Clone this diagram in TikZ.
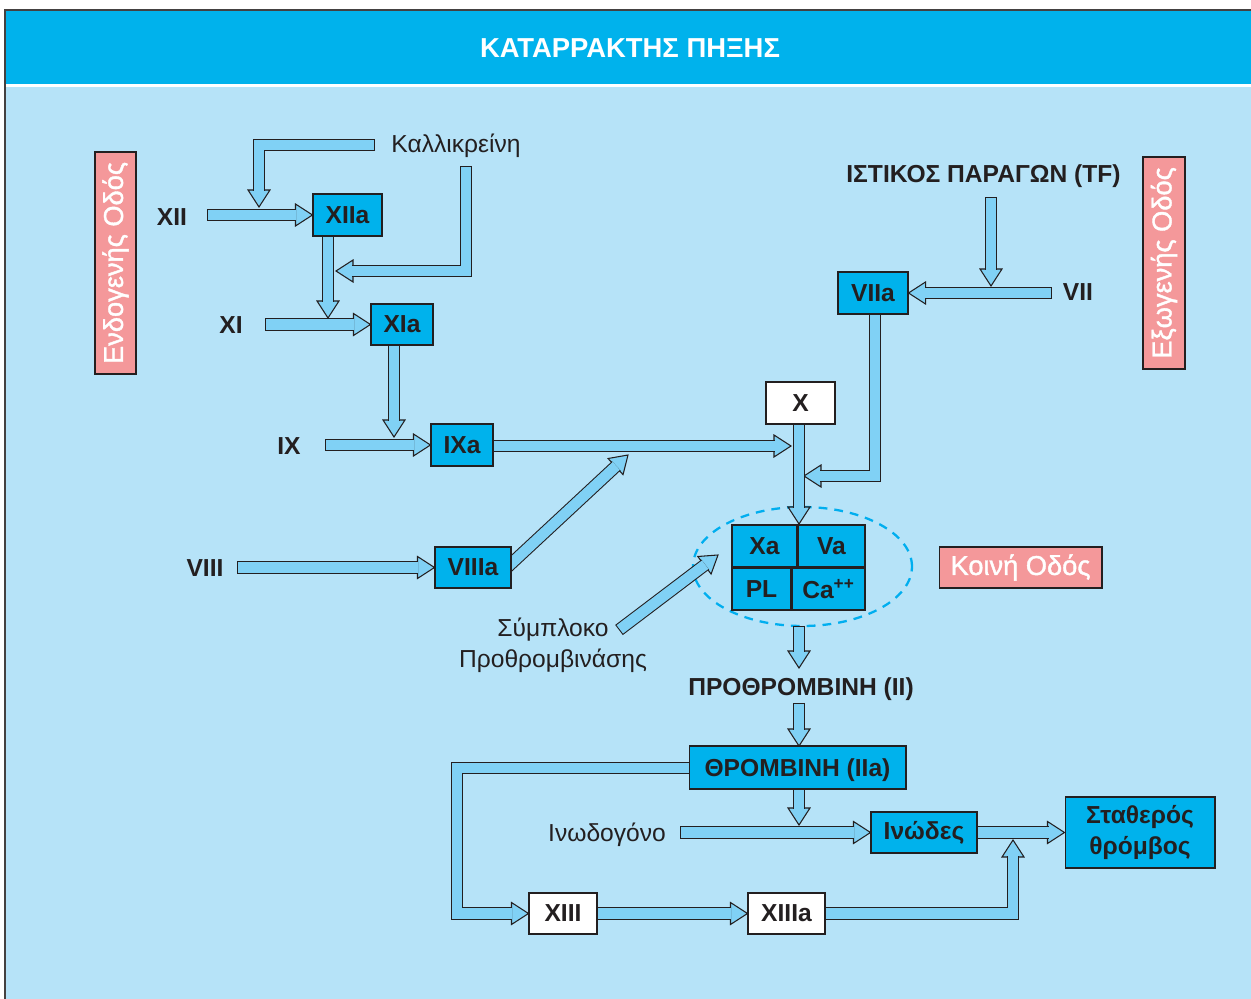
\documentclass[tikz,border=0pt]{standalone}
\usepackage{fontspec}
\setmainfont{Liberation Sans}
\newfontfamily\labelfont[FakeBold=1.4]{Liberation Sans}
\usetikzlibrary{calc,shapes.geometric}

\definecolor{ink}{HTML}{231F20}
\definecolor{cyanbox}{HTML}{00B2EC}
\definecolor{bgblue}{HTML}{B6E3F8}
\definecolor{arrowfill}{HTML}{80D1F5}
\definecolor{pinkfill}{HTML}{F4989A}
\definecolor{dashcyan}{HTML}{00AEEF}

\pgfdeclarelayer{bg}
\pgfdeclarelayer{arrows}
\pgfsetlayers{bg,arrows,main}

\tikzset{
  pageframe/.style={draw=ink!85, line width=0.8pt},
  box/.style={draw=ink, line width=0.6pt, fill=cyanbox, inner sep=0pt, text=ink,
    font=\fontsize{14}{16}\selectfont\bfseries},
  whitebox/.style={box, fill=white},
  pinkbox/.style={draw=ink, line width=0.6pt, fill=pinkfill, inner sep=0pt, text=white,
    font=\labelfont\fontsize{15.5}{18}\selectfont},
  factor/.style={inner sep=0pt, text=ink, font=\fontsize{14}{16}\selectfont\bfseries},
  note/.style={inner sep=0pt, text=ink, font=\fontsize{14}{17.6}\selectfont, align=center},
  titletext/.style={inner sep=0pt, text=white, font=\fontsize{15.6}{18}\selectfont\bfseries},
  shaft/.style={draw=ink, line width=7.2pt, line join=miter,
    postaction={draw=arrowfill, line width=6pt, shorten <=0.6pt}},
  fathead/.style={draw=ink, line width=0.6pt, fill=arrowfill, line join=miter},
  complexring/.style={ellipse, draw=dashcyan, line width=1.3pt, dash pattern=on 5pt off 4pt,
    minimum width=4.38cm, minimum height=2.38cm, inner sep=0pt},
}

% open block-arrow head with its tip at #1, pointing in direction #2
\newcommand\blockhead[2]{%
  \begin{scope}[shift={(#1)},rotate=#2]
    \draw[fathead] (0,0) -- (-0.34cm,0.22cm) -- (-0.34cm,-0.22cm) -- cycle;
  \end{scope}}
% block arrow: #1 tail and bends, #2 tip, #3 direction of the head
\newcommand\blockarrow[3]{%
  \blockhead{#2}{#3}
  \draw[shaft] #1 -- ($(#2)+(#3:-0.32cm)$);}

\begin{document}
\begin{tikzpicture}[x=0.02cm, y=-0.02cm]
\useasboundingbox (0,0) rectangle (1251,999);

% page, title bar and frame
\begin{pgfonlayer}{bg}
  \fill[white] (0,0) rectangle (1251,999);
  \fill[cyanbox] (5,10) rectangle (1251,84);
  \fill[bgblue] (5,87) rectangle (1251,999);
  \draw[pageframe] (5,999) -- (5,10) -- (1251,10);
  \node[complexring] (ring) at (802.5,566.5) {};
\end{pgfonlayer}

\node[titletext] (title) at (630,48) {ΚΑΤΑΡΡΑΚΤΗΣ ΠΗΞΗΣ};

% pathway labels
\node[pinkbox, rotate=90, minimum width=4.44cm, minimum height=0.82cm] (endo) at (115.5,263) {Ενδογενής Οδός};
\node[pinkbox, rotate=90, minimum width=4.24cm, minimum height=0.84cm] (exo) at (1164,263) {Εξωγενής Οδός};
\node[pinkbox, minimum width=3.26cm, minimum height=0.82cm] (common) at (1020.5,567.5) {Κοινή Οδός};

% free texts
\node[note] (kall) at (456,146) {Καλλικρείνη};
\node[factor] (tf) at (983.5,176) {ΙΣΤΙΚΟΣ ΠΑΡΑΓΩΝ (TF)};
\node[factor] (xii) at (172,217) {XII};
\node[factor] (xi) at (231,325) {XI};
\node[factor] (ix) at (289,446) {IX};
\node[factor] (viii) at (205,568) {VIII};
\node[factor] (vii) at (1078,292) {VII};
\node[note] (prothrombinase) at (553,645) {Σύμπλοκο\\Προθρομβινάσης};
\node[factor] (prothrombin) at (801,689) {ΠΡΟΘΡΟΜΒΙΝΗ (II)};
\node[note] (fibrinogen) at (607,835) {Ινωδογόνο};

% activated factors
\node[box, minimum width=1.38cm, minimum height=0.84cm] (xiia) at (347.5,215) {XIIa};
\node[box, minimum width=1.24cm, minimum height=0.82cm] (xia) at (402,324.5) {XIa};
\node[box, minimum width=1.24cm, minimum height=0.84cm] (ixa) at (462,445) {IXa};
\node[box, minimum width=1.52cm, minimum height=0.82cm] (viiia) at (473,567.5) {VIIIa};
\node[box, minimum width=1.40cm, minimum height=0.84cm] (viia) at (873,293) {VIIa};
\node[whitebox, minimum width=1.38cm, minimum height=0.84cm] (x) at (800.5,403) {X};

% prothrombinase complex
\node[box, minimum width=1.30cm, minimum height=0.84cm] (xa) at (764.5,546) {Xa};
\node[box, minimum width=1.34cm, minimum height=0.84cm] (va) at (831.5,546) {Va};
\node[box, minimum width=1.18cm, minimum height=0.84cm] (pl) at (761.5,589) {PL};
\node[box, minimum width=1.46cm, minimum height=0.84cm] (ca) at (828.5,589) {Ca\textsuperscript{++}};

% thrombin and fibrin
\node[box, minimum width=4.34cm, minimum height=0.86cm, text depth=0pt] (thr) at (797.5,767.5) {ΘΡΟΜΒΙΝΗ (IIa)};
\node[box, minimum width=2.12cm, minimum height=0.82cm] (inodes) at (924,832.5) {Ινώδες};
\node[box, minimum width=3.0cm, minimum height=1.42cm, align=center,
      font=\fontsize{14}{18}\selectfont\bfseries] (stath) at (1140,832.5) {Σταθερός\\θρόμβος};
\node[whitebox, minimum width=1.36cm, minimum height=0.82cm] (xiii) at (563,913.5) {XIII};
\node[whitebox, minimum width=1.54cm, minimum height=0.82cm] (xiiia) at (786.5,913.5) {XIIIa};

% arrow end points
\coordinate (kalA) at (375,145); \coordinate (kalB) at (259,145); \coordinate (kalAtip) at (259,207);
\coordinate (kalC) at (466,166); \coordinate (kalD) at (466,271); \coordinate (kalCtip) at (336,271);
\coordinate (xiiTail) at (207,215);
\coordinate (xiiaOut) at (328,225); \coordinate (xiiaTip) at (328,318);
\coordinate (xiTail) at (265,324.5);
\coordinate (xiaOut) at (394,334); \coordinate (xiaTip) at (394,437);
\coordinate (ixTail) at (325,445);
\coordinate (ixaOut) at (480,446); \coordinate (ixaTip) at (791,446);
\coordinate (xOut) at (799,415); \coordinate (xTip) at (799,524);
\coordinate (viiaOut) at (875,303); \coordinate (viiaBend) at (875,476); \coordinate (viiaTip) at (804,476);
\coordinate (tfTail) at (991,197); \coordinate (tfTip) at (991,286);
\coordinate (viiTail) at (1052,293);
\coordinate (viiiTail) at (237,567.5);
\coordinate (viiiaOut) at (500,574); \coordinate (viiiaTip) at (628,455);
\coordinate (prTail) at (619,630); \coordinate (prTip) at (718,555);
\coordinate (ringOut) at (799,626); \coordinate (ringTip) at (799,668);
\coordinate (iiTail) at (799,703); \coordinate (iiTip) at (799,746);
\coordinate (thrOut) at (799,780); \coordinate (thrTip) at (799,825);
\coordinate (fgTail) at (680,832.5);
\coordinate (inOut) at (960,832.5);
\coordinate (loopOut) at (700,768); \coordinate (loopA) at (457,768); \coordinate (loopB) at (457,913.5);
\coordinate (xiiiOut) at (580,913.5);
\coordinate (xiiiaOut) at (800,913.5); \coordinate (xiiiaBend) at (1013,913.5); \coordinate (xiiiaTip) at (1013,840);

\begin{pgfonlayer}{arrows}
  % intrinsic pathway
  \blockarrow{(kalA) -- (kalB)}{kalAtip}{-90}
  \blockarrow{(xiiTail)}{xiia.west}{0}
  \blockarrow{(kalC) -- (kalD)}{kalCtip}{180}
  \blockarrow{(xiiaOut)}{xiiaTip}{-90}
  \blockarrow{(xiTail)}{xia.west}{0}
  \blockarrow{(xiaOut)}{xiaTip}{-90}
  \blockarrow{(ixTail)}{ixa.west}{0}
  \blockarrow{(ixaOut)}{ixaTip}{0}
  \blockarrow{(viiiTail)}{viiia.west}{0}
  \blockarrow{(viiiaOut)}{viiiaTip}{42.9}
  % extrinsic pathway
  \blockarrow{(viiTail)}{viia.east}{180}
  \blockarrow{(tfTail)}{tfTip}{-90}
  \blockarrow{(viiaOut) -- (viiaBend)}{viiaTip}{180}
  % common pathway
  \blockarrow{(xOut)}{xTip}{-90}
  \blockarrow{(prTail)}{prTip}{37.15}
  \blockarrow{(ringOut)}{ringTip}{-90}
  \blockarrow{(iiTail)}{iiTip}{-90}
  \blockarrow{(fgTail)}{inodes.west}{0}
  \blockarrow{(thrOut)}{thrTip}{-90}
  \blockarrow{(inOut)}{stath.west}{0}
  \blockarrow{(loopOut) -- (loopA) -- (loopB)}{xiii.west}{0}
  \blockarrow{(xiiiOut)}{xiiia.west}{0}
  \blockarrow{(xiiiaOut) -- (xiiiaBend)}{xiiiaTip}{90}
\end{pgfonlayer}
\end{tikzpicture}
\end{document}
